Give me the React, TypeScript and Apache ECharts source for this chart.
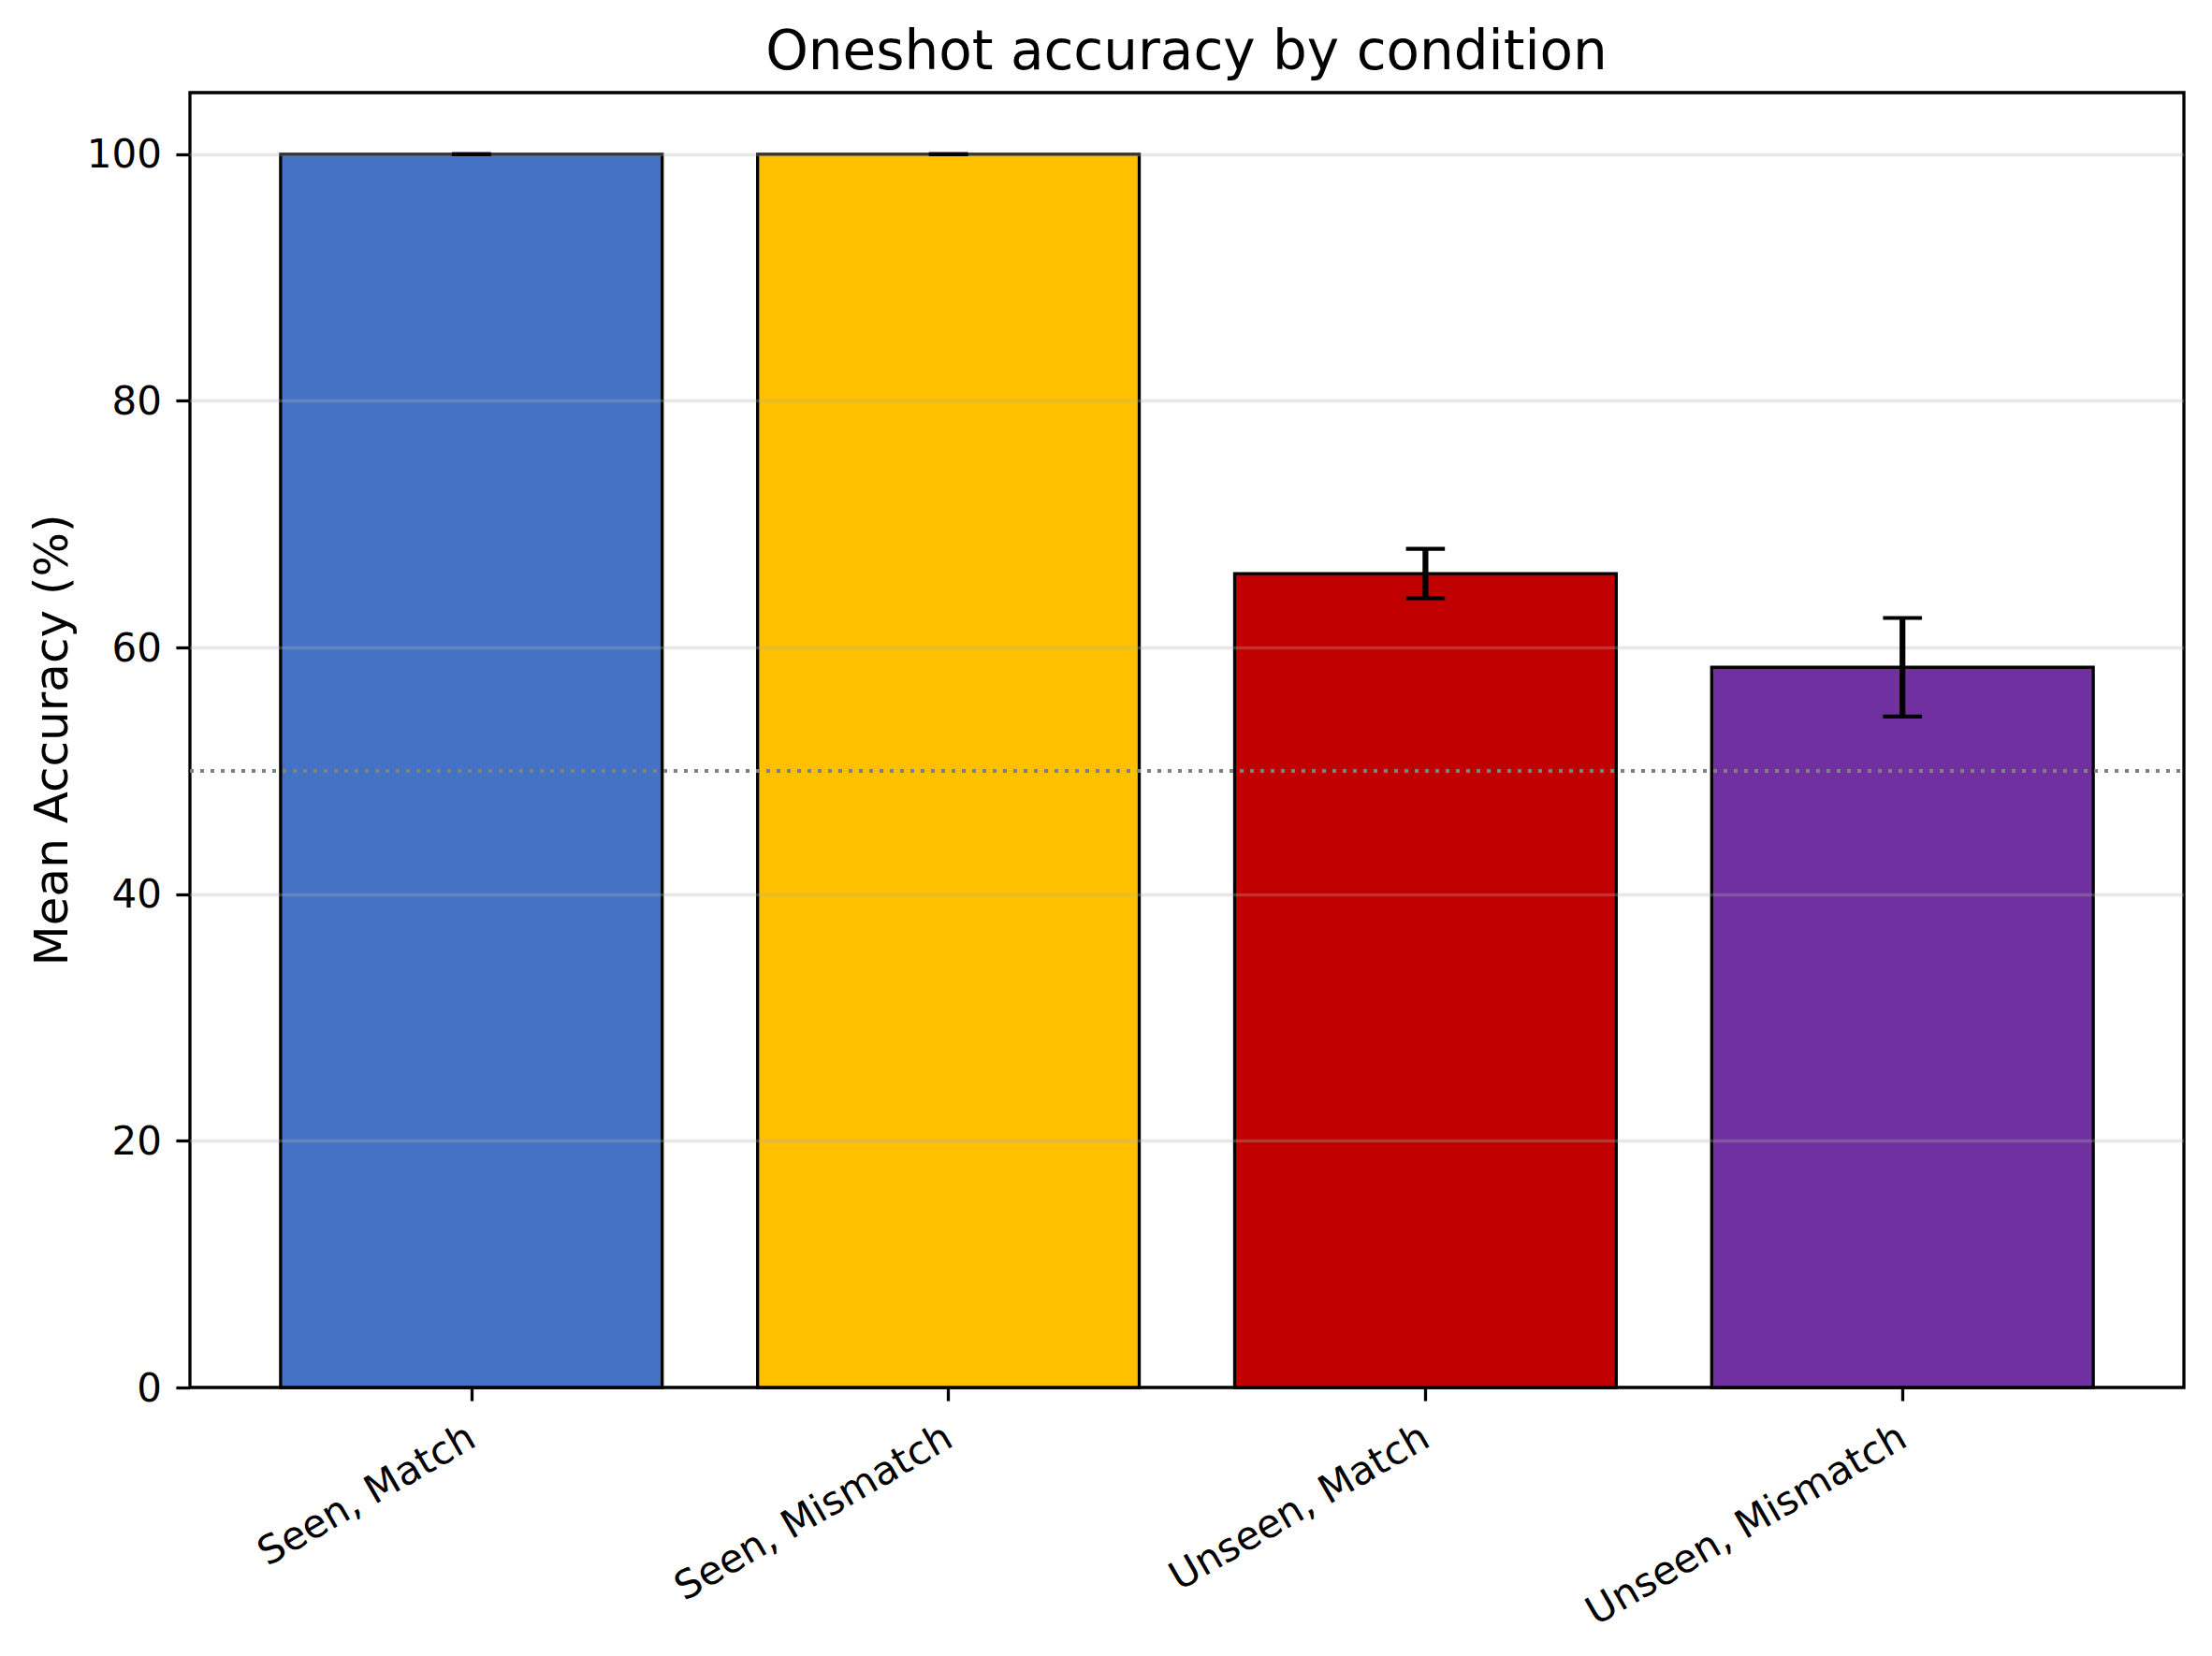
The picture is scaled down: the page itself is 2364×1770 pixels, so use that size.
import { useEffect, useRef } from 'react'
import * as echarts from 'echarts'

const categories = ['Seen, Match', 'Seen, Mismatch', 'Unseen, Match', 'Unseen, Mismatch']
const meanAccuracy = [100, 100, 66.0, 58.4]
const errorSize = [0, 0, 2.0, 4.0]
const barColors = ['#4472C4', '#FFC000', '#C00000', '#7030A0']
const yTicks = [0, 20, 40, 60, 80, 100]
const xTicks = [0, 1, 2, 3]
const chanceLevel = 50

const FONT = 'DejaVu Sans'

export default function App() {
  const chartRef = useRef<HTMLDivElement>(null)

  useEffect(() => {
    document.body.style.margin = '0'
    if (!chartRef.current) return
    const chart = echarts.init(chartRef.current, null, { renderer: 'svg' })

    const data = categories.map((_, i) => [i, meanAccuracy[i], errorSize[i]])

    const option: echarts.EChartsOption = {
      animation: false,
      backgroundColor: '#fff',
      grid: {
        left: 203,
        right: 30,
        top: 99,
        bottom: 287,
        show: true,
        borderColor: '#000',
        borderWidth: 3.3,
        backgroundColor: 'transparent',
      },
      graphic: [
        {
          type: 'text',
          x: 1268,
          y: 54,
          style: {
            text: 'Oneshot accuracy by condition',
            font: `58px "${FONT}"`,
            fill: '#000',
            align: 'center',
            verticalAlign: 'middle',
          },
        },
      ],
      xAxis: {
        type: 'value',
        min: -0.59,
        max: 3.59,
        axisLine: { show: false, onZero: false },
        splitLine: { show: false },
        axisTick: {
          show: true,
          customValues: xTicks,
          length: 14.6,
          lineStyle: { color: '#000', width: 3.3 },
        },
        axisLabel: {
          customValues: xTicks,
          formatter: (v: number) => categories[Math.round(v)] ?? '',
          rotate: 30,
          margin: 49,
          fontFamily: FONT,
          fontSize: 42,
          color: '#000',
        },
      },
      yAxis: {
        type: 'value',
        min: 0,
        max: 105,
        interval: 20,
        z: 3,
        name: 'Mean Accuracy (%)',
        nameLocation: 'middle',
        nameGap: 123,
        nameTextStyle: { fontFamily: FONT, fontSize: 50, color: '#000' },
        axisLine: { show: false, onZero: false },
        axisTick: {
          show: true,
          customValues: yTicks,
          length: 14.6,
          lineStyle: { color: '#000', width: 3.3 },
        },
        axisLabel: {
          customValues: yTicks,
          margin: 30,
          fontFamily: FONT,
          fontSize: 42,
          color: '#000',
        },
        splitLine: {
          show: true,
          showMinLine: false,
          lineStyle: { color: 'rgba(176,176,176,0.3)', width: 3.3 },
        },
      },
      series: [
        {
          type: 'custom',
          name: 'bars',
          z: 2,
          data,
          encode: { x: 0, y: 1 },
          renderItem: (params: any, api: any) => {
            const x = api.value(0)
            const y = api.value(1)
            const p0 = api.coord([x - 0.4, y])
            const p1 = api.coord([x + 0.4, 0])
            return {
              type: 'rect',
              shape: { x: p0[0], y: p0[1], width: p1[0] - p0[0], height: p1[1] - p0[1] },
              style: { fill: barColors[params.dataIndex], stroke: '#000', lineWidth: 3.3 },
            }
          },
        },
        {
          type: 'custom',
          name: 'error',
          z: 5,
          data,
          encode: { x: 0, y: 1 },
          renderItem: (_params: any, api: any) => {
            const x = api.value(0)
            const y = api.value(1)
            const e = api.value(2)
            const top = api.coord([x, y + e])
            const bot = api.coord([x, y - e])
            const cap = 20.8
            const ls = { stroke: '#000', lineWidth: 6.2 }
            const cs = { stroke: '#000', lineWidth: 4.2 }
            return {
              type: 'group',
              children: [
                { type: 'line', shape: { x1: top[0], y1: top[1], x2: bot[0], y2: bot[1] }, style: ls },
                { type: 'line', shape: { x1: top[0] - cap, y1: top[1], x2: top[0] + cap, y2: top[1] }, style: cs },
                { type: 'line', shape: { x1: bot[0] - cap, y1: bot[1], x2: bot[0] + cap, y2: bot[1] }, style: cs },
              ],
            }
          },
          markLine: {
            silent: true,
            symbol: 'none',
            label: { show: false },
            lineStyle: { color: '#808080', width: 4, type: [4, 7] },
            data: [{ yAxis: chanceLevel }],
          },
        },
      ],
    }

    chart.setOption(option)
    return () => {
      chart.dispose()
    }
  }, [])

  return <div ref={chartRef} style={{ width: '2364px', height: '1770px' }} />
}
